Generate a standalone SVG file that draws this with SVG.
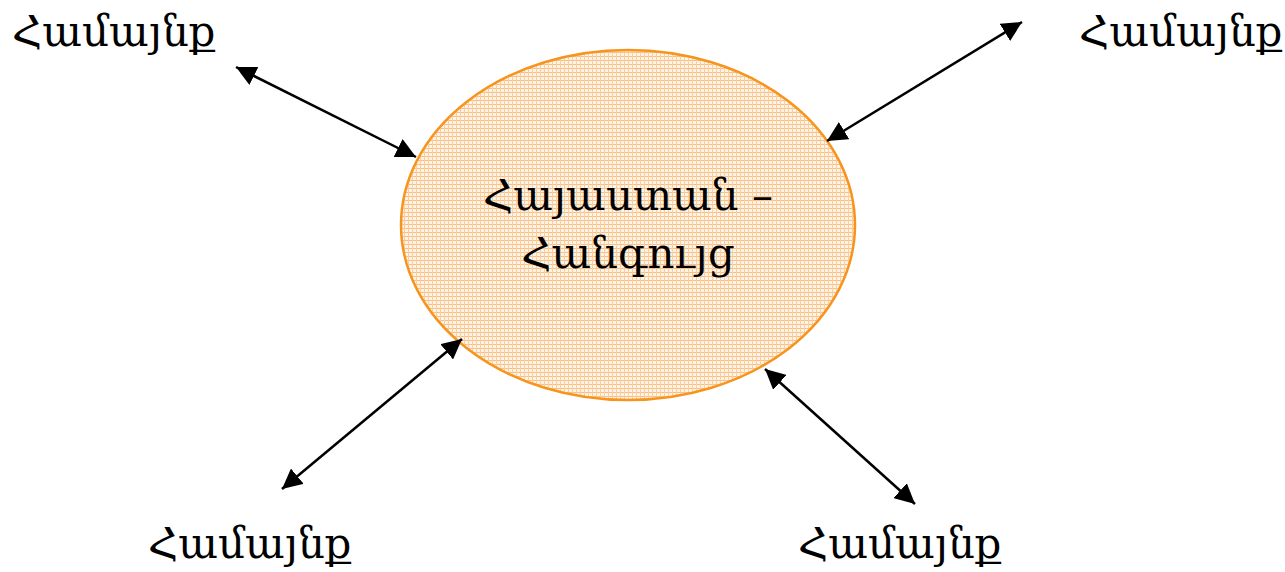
<svg xmlns="http://www.w3.org/2000/svg" width="1285" height="572" viewBox="0 0 1285 572">
<style>
.lbl{font-family:"DejaVu Serif","Noto Sans","Liberation Serif",serif;font-size:42px;fill:#000}
.ctr{font-family:"DejaVu Serif","Noto Sans","Liberation Serif",serif;font-size:42px;fill:#000;text-anchor:middle}
.conn{stroke:#000;stroke-width:2.5;fill:none;marker-start:url(#ah);marker-end:url(#ah)}
</style>
<defs>
<marker id="ah" viewBox="0 0 10 10" refX="10" refY="5" markerWidth="8" markerHeight="8" markerUnits="strokeWidth" orient="auto-start-reverse">
<path d="M0,0 L10,5 L0,10 z" fill="#000"/>
</marker>
<pattern id="grid" width="4" height="4" patternUnits="userSpaceOnUse">
<rect width="4" height="4" fill="#FFF3E6"/>
<rect x="0" y="0" width="4" height="1" fill="#F8BE82"/>
<rect x="0" y="0" width="1" height="4" fill="#FACFA0"/>
</pattern>
</defs>
<rect width="1285" height="572" fill="#fff"/>
<g id="center">
<ellipse cx="628" cy="225" rx="227" ry="175" fill="url(#grid)" stroke="#F7941D" stroke-width="2.5"/>
<text class="ctr" x="628" y="210">Հայաստան –</text>
<text class="ctr" x="628" y="268">Հանգույց</text>
</g>
<g id="n-tl"><text class="lbl" x="12" y="46">Համայնք</text></g>
<g id="n-tr"><text class="lbl" x="1079" y="46">Համայնք</text></g>
<g id="n-bl"><text class="lbl" x="148" y="558">Համայնք</text></g>
<g id="n-br"><text class="lbl" x="798" y="558">Համայնք</text></g>
<g id="connectors">
<line class="conn" x1="236" y1="67" x2="416" y2="157"/>
<line class="conn" x1="827" y1="141" x2="1022" y2="22"/>
<line class="conn" x1="282" y1="489" x2="462" y2="339"/>
<line class="conn" x1="765" y1="369" x2="915" y2="504"/>
</g>
</svg>
